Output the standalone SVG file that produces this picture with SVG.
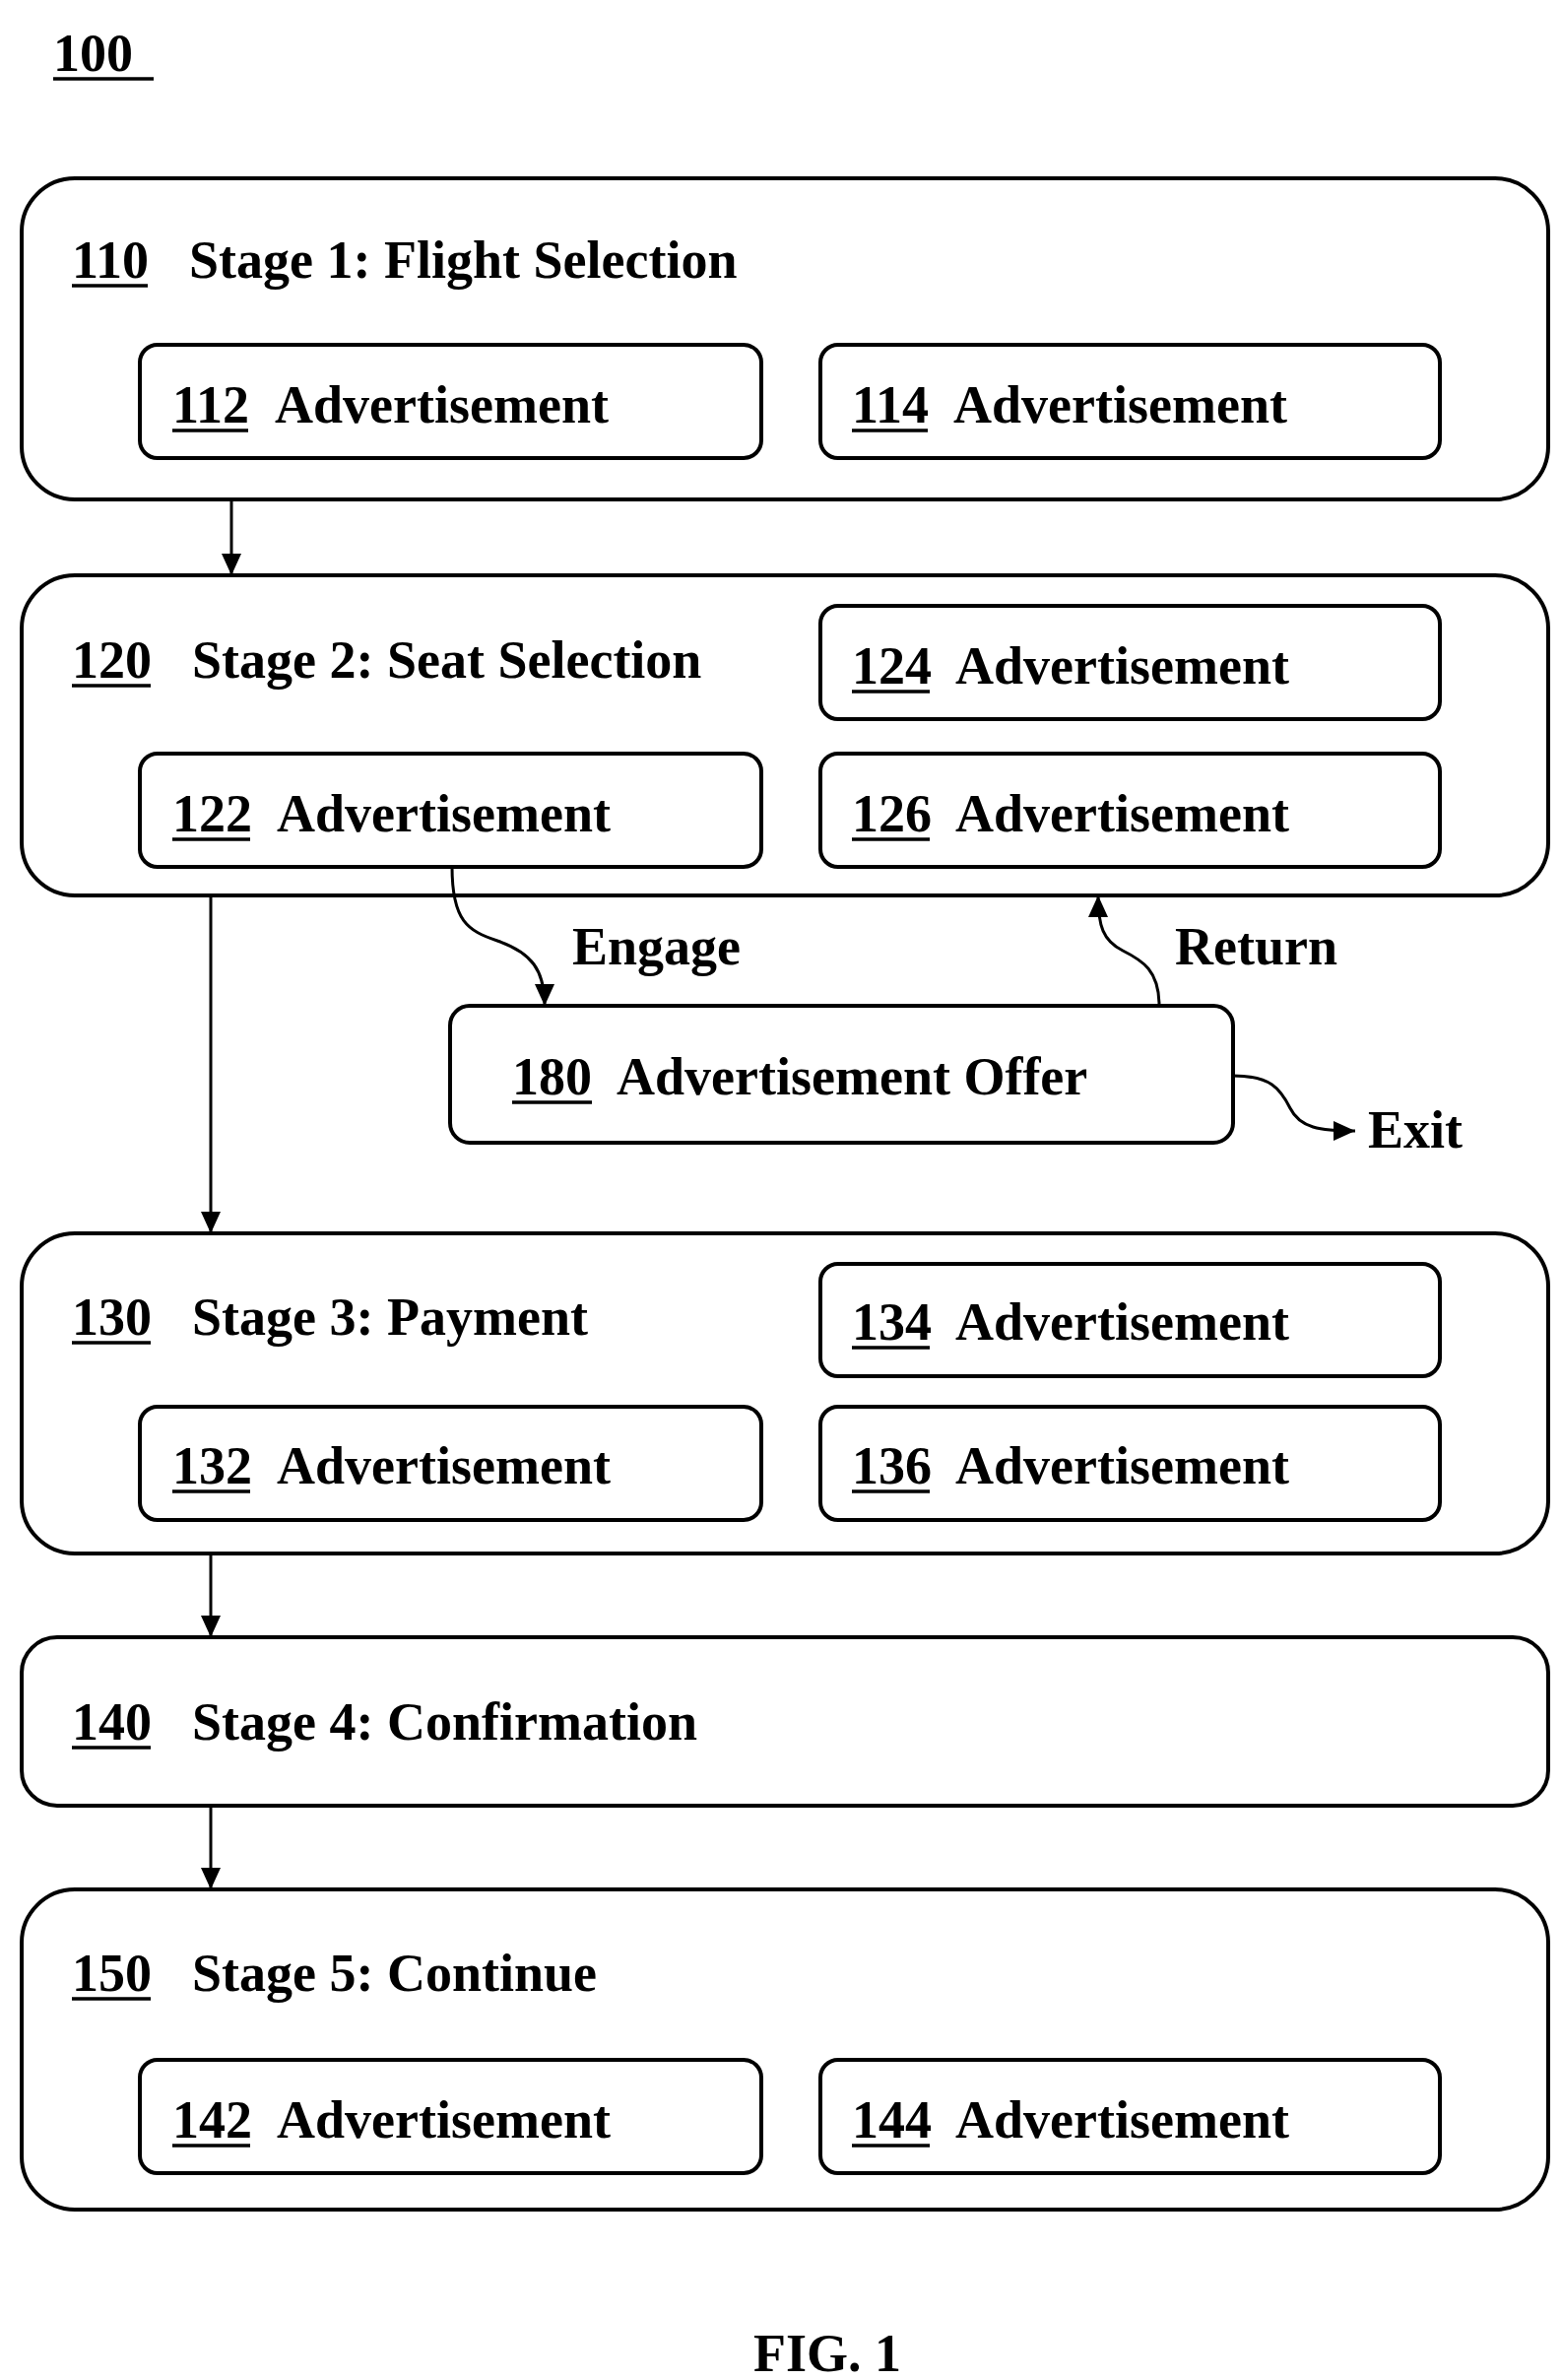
<svg xmlns="http://www.w3.org/2000/svg" width="1586" height="2416" viewBox="0 0 1586 2416">
<style>
text{font-family:"Liberation Serif","Times New Roman",serif;font-weight:bold;fill:#000;font-size:54px}
.stage{fill:#fff;stroke:#000;stroke-width:4}
.ad{fill:#fff;stroke:#000;stroke-width:4}
.ul{stroke:#000;stroke-width:3.5}
.c{fill:none;stroke:#000;stroke-width:3}
</style>
<defs>
<marker id="ah" markerUnits="userSpaceOnUse" markerWidth="24" markerHeight="24" refX="22" refY="10" orient="auto">
<path d="M0,0 L22,10 L0,20 Z" fill="#000"/>
</marker>
</defs>
<g id="title100"><text x="54" y="72" font-size="70">100</text><line class="ul" x1="54" y1="80" x2="156" y2="80"/></g>

<g id="stage110">
<rect class="stage" x="22" y="181" width="1550" height="326" rx="54"/>
<text x="73" y="282">110</text><line class="ul" x1="73" y1="290" x2="150" y2="290"/>
<text x="192" y="282">Stage 1: Flight Selection</text>
</g>
<g id="ad112"><rect class="ad" x="142" y="350" width="631" height="115" rx="18"/><text x="175" y="429">112</text><line class="ul" x1="175" y1="437" x2="252" y2="437"/><text x="279" y="429">Advertisement</text></g>
<g id="ad114"><rect class="ad" x="833" y="350" width="629" height="115" rx="18"/><text x="865" y="429">114</text><line class="ul" x1="865" y1="437" x2="942" y2="437"/><text x="968" y="429">Advertisement</text></g>

<g id="stage120">
<rect class="stage" x="22" y="584" width="1550" height="325" rx="54"/>
<text x="73" y="688">120</text><line class="ul" x1="73" y1="696" x2="153" y2="696"/>
<text x="195" y="688">Stage 2: Seat Selection</text>
</g>
<g id="ad124"><rect class="ad" x="833" y="615" width="629" height="115" rx="18"/><text x="865" y="694">124</text><line class="ul" x1="865" y1="702" x2="944" y2="702"/><text x="970" y="694">Advertisement</text></g>
<g id="ad122"><rect class="ad" x="142" y="765" width="631" height="115" rx="18"/><text x="175" y="844">122</text><line class="ul" x1="175" y1="852" x2="254" y2="852"/><text x="281" y="844">Advertisement</text></g>
<g id="ad126"><rect class="ad" x="833" y="765" width="629" height="115" rx="18"/><text x="865" y="844">126</text><line class="ul" x1="865" y1="852" x2="944" y2="852"/><text x="970" y="844">Advertisement</text></g>

<g id="offer180"><rect class="ad" x="457" y="1021" width="795" height="139" rx="20"/><text x="520" y="1111">180</text><line class="ul" x1="520" y1="1119" x2="601" y2="1119"/><text x="626" y="1111">Advertisement Offer</text></g>

<g id="stage130">
<rect class="stage" x="22" y="1252" width="1550" height="325" rx="54"/>
<text x="73" y="1355">130</text><line class="ul" x1="73" y1="1363" x2="153" y2="1363"/>
<text x="195" y="1355">Stage 3: Payment</text>
</g>
<g id="ad134"><rect class="ad" x="833" y="1283" width="629" height="114" rx="18"/><text x="865" y="1360">134</text><line class="ul" x1="865" y1="1368" x2="944" y2="1368"/><text x="970" y="1360">Advertisement</text></g>
<g id="ad132"><rect class="ad" x="142" y="1428" width="631" height="115" rx="18"/><text x="175" y="1506">132</text><line class="ul" x1="175" y1="1514" x2="254" y2="1514"/><text x="281" y="1506">Advertisement</text></g>
<g id="ad136"><rect class="ad" x="833" y="1428" width="629" height="115" rx="18"/><text x="865" y="1506">136</text><line class="ul" x1="865" y1="1514" x2="944" y2="1514"/><text x="970" y="1506">Advertisement</text></g>

<g id="stage140">
<rect class="stage" x="22" y="1662" width="1550" height="171" rx="36"/>
<text x="73" y="1766">140</text><line class="ul" x1="73" y1="1774" x2="153" y2="1774"/>
<text x="195" y="1766">Stage 4: Confirmation</text>
</g>

<g id="stage150">
<rect class="stage" x="22" y="1918" width="1550" height="325" rx="54"/>
<text x="73" y="2021">150</text><line class="ul" x1="73" y1="2029" x2="153" y2="2029"/>
<text x="195" y="2021">Stage 5: Continue</text>
</g>
<g id="ad142"><rect class="ad" x="142" y="2091" width="631" height="115" rx="18"/><text x="175" y="2170">142</text><line class="ul" x1="175" y1="2178" x2="254" y2="2178"/><text x="281" y="2170">Advertisement</text></g>
<g id="ad144"><rect class="ad" x="833" y="2091" width="629" height="115" rx="18"/><text x="865" y="2170">144</text><line class="ul" x1="865" y1="2178" x2="944" y2="2178"/><text x="970" y="2170">Advertisement</text></g>

<g id="connectors">
<line class="c" x1="235" y1="507" x2="235" y2="584" marker-end="url(#ah)"/>
<line class="c" x1="214" y1="909" x2="214" y2="1252" marker-end="url(#ah)"/>
<line class="c" x1="214" y1="1577" x2="214" y2="1662" marker-end="url(#ah)"/>
<line class="c" x1="214" y1="1833" x2="214" y2="1918" marker-end="url(#ah)"/>
<path class="c" d="M459,880 C459,935 475,945 505,955 C540,967 553,985 553,1021" marker-end="url(#ah)"/>
<path class="c" d="M1177,1021 C1177,985 1160,975 1140,965 C1120,955 1115,940 1115,909" marker-end="url(#ah)"/>
<path class="c" d="M1252,1092 C1290,1092 1300,1105 1310,1125 C1320,1145 1340,1148 1376,1148" marker-end="url(#ah)"/>
<text x="581" y="979">Engage</text>
<text x="1193" y="979">Return</text>
<text x="1389" y="1165">Exit</text>
</g>

<text x="840" y="2407" font-size="66" text-anchor="middle">FIG. 1</text>
</svg>
